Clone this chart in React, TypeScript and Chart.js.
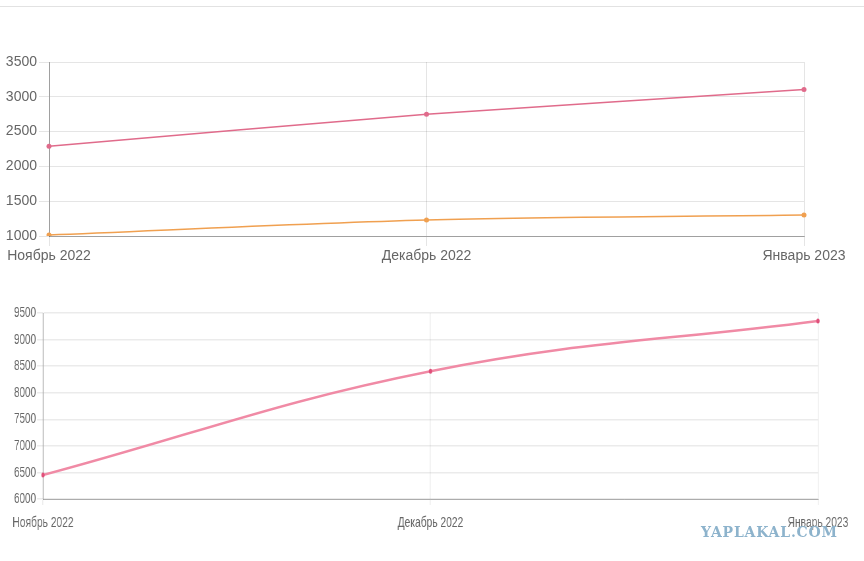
import React, { useEffect, useRef } from "react";
import { Chart, registerables } from "chart.js";

Chart.register(...registerables);

const months = ["Ноябрь 2022", "Декабрь 2022", "Январь 2023"];
const topPink = [2290, 2750, 3105];
const topOrange = [1015, 1230, 1300];
const topTicks = [1000, 1500, 2000, 2500, 3000, 3500];
const bottomPink = [6450, 8405, 9350];
const bottomTicks = [6000, 6500, 7000, 7500, 8000, 8500, 9000, 9500];

function LineChart(props: {
  top: number;
  height: number;
  sx: number;
  datasets: any[];
  min: number;
  max: number;
  step: number;
  yWidth: number;
  xHeight: number;
  padTop: number;
  padRight: number;
  xFont: any;
  yFont: any;
  tickLen: number;
  tickPad: number;
  xPad: number;
  gridWidth: number;
  gridColor: string;
}) {
  const ref = useRef<HTMLCanvasElement | null>(null);
  const w = Math.round(864 / props.sx);
  useEffect(() => {
    if (!ref.current) return;
    const chart = new Chart(ref.current, {
      type: "line",
      data: { labels: months, datasets: props.datasets },
      options: {
        animation: false,
        responsive: false,
        maintainAspectRatio: false,
        layout: { padding: { top: props.padTop, right: props.padRight / props.sx, left: 0, bottom: 0 } },
        plugins: { legend: { display: false }, tooltip: { enabled: false } },
        scales: {
          x: {
            offset: false,
            grid: { color: props.gridColor, lineWidth: props.gridWidth, tickLength: props.tickLen },
            border: { color: "rgba(0,0,0,0.3)" },
            ticks: { color: "#666", font: props.xFont, padding: props.xPad, maxRotation: 0, autoSkip: false },
            afterFit: (s: any) => { s.height = props.xHeight; },
          },
          y: {
            min: props.min,
            max: props.max,
            grid: { color: props.gridColor, lineWidth: props.gridWidth, tickLength: props.tickLen / props.sx },
            border: { color: "rgba(0,0,0,0.3)" },
            ticks: {
              stepSize: props.step,
              color: "#666",
              font: props.yFont,
              padding: props.tickPad / props.sx,
              callback: (v: any) => String(v),
            },
            afterFit: (s: any) => { s.width = props.yWidth / props.sx; },
          },
        },
      },
    });
    return () => chart.destroy();
  }, []);
  return (
    <div style={{ position: "absolute", left: 0, top: props.top, width: 864, height: props.height }}>
      <canvas
        ref={ref}
        width={w}
        height={props.height}
        style={{
          width: w,
          height: props.height,
          transform: `scaleX(${props.sx})`,
          transformOrigin: "0 0",
          display: "block",
        }}
      />
    </div>
  );
}

export default function App() {
  const topFont = { family: "'Liberation Sans', Arial, sans-serif", size: 14 };
  return (
    <div style={{ position: "absolute", left: 0, top: 0, width: 864, height: 561, background: "#fff", overflow: "hidden" }}>
      <div style={{ position: "absolute", left: 0, top: 6, width: 864, height: 0, borderTop: "1px solid #e2e2e2" }} />
      <LineChart
        top={0}
        height={266}
        sx={1}
        min={topTicks[0]}
        max={topTicks[topTicks.length - 1]}
        step={topTicks[1] - topTicks[0]}
        yWidth={49}
        xHeight={30}
        padTop={62}
        padRight={60}
        tickLen={10}
        tickPad={2}
        xPad={2}
        gridWidth={1}
        gridColor="rgba(0,0,0,0.1)"
        xFont={topFont}
        yFont={topFont}
        datasets={[
          {
            data: topPink,
            borderColor: "#e06b8b",
            backgroundColor: "#e06b8b",
            borderWidth: 1.5,
            pointRadius: 2.5,
            pointBorderWidth: 0,
            tension: 0.15,
            fill: false,
          },
          {
            data: topOrange,
            borderColor: "#f0a050",
            backgroundColor: "#f0a050",
            borderWidth: 1.5,
            pointRadius: 2.5,
            pointBorderWidth: 0,
            tension: 0.3,
            fill: false,
          },
        ]}
      />
      <LineChart
        top={280}
        height={254}
        sx={0.66}
        min={bottomTicks[0]}
        max={bottomTicks[bottomTicks.length - 1]}
        step={bottomTicks[1] - bottomTicks[0]}
        yWidth={43}
        xHeight={35}
        padTop={33}
        padRight={46}
        tickLen={6}
        tickPad={1}
        xPad={8}
        gridWidth={1.5}
        gridColor="rgba(0,0,0,0.08)"
        xFont={{ family: "'Liberation Sans', Arial, sans-serif", size: 15.5 }}
        yFont={{ family: "'Liberation Sans', Arial, sans-serif", size: 15 }}
        datasets={[
          {
            data: bottomPink,
            borderColor: "#f08aa5",
            backgroundColor: "#e0507a",
            borderWidth: 2.5,
            pointRadius: 2.5,
            pointBorderWidth: 0,
            tension: 0.4,
            fill: false,
          },
        ]}
      />
      <div
        style={{
          position: "absolute",
          left: 701,
          top: 524,
          fontFamily: "'DejaVu Serif', serif",
          fontWeight: "bold",
          fontSize: 14,
          color: "#8db3cc",
          letterSpacing: 0.8,
          whiteSpace: "nowrap",
        }}
      >
        YAPLAKAL.COM
      </div>
    </div>
  );
}
